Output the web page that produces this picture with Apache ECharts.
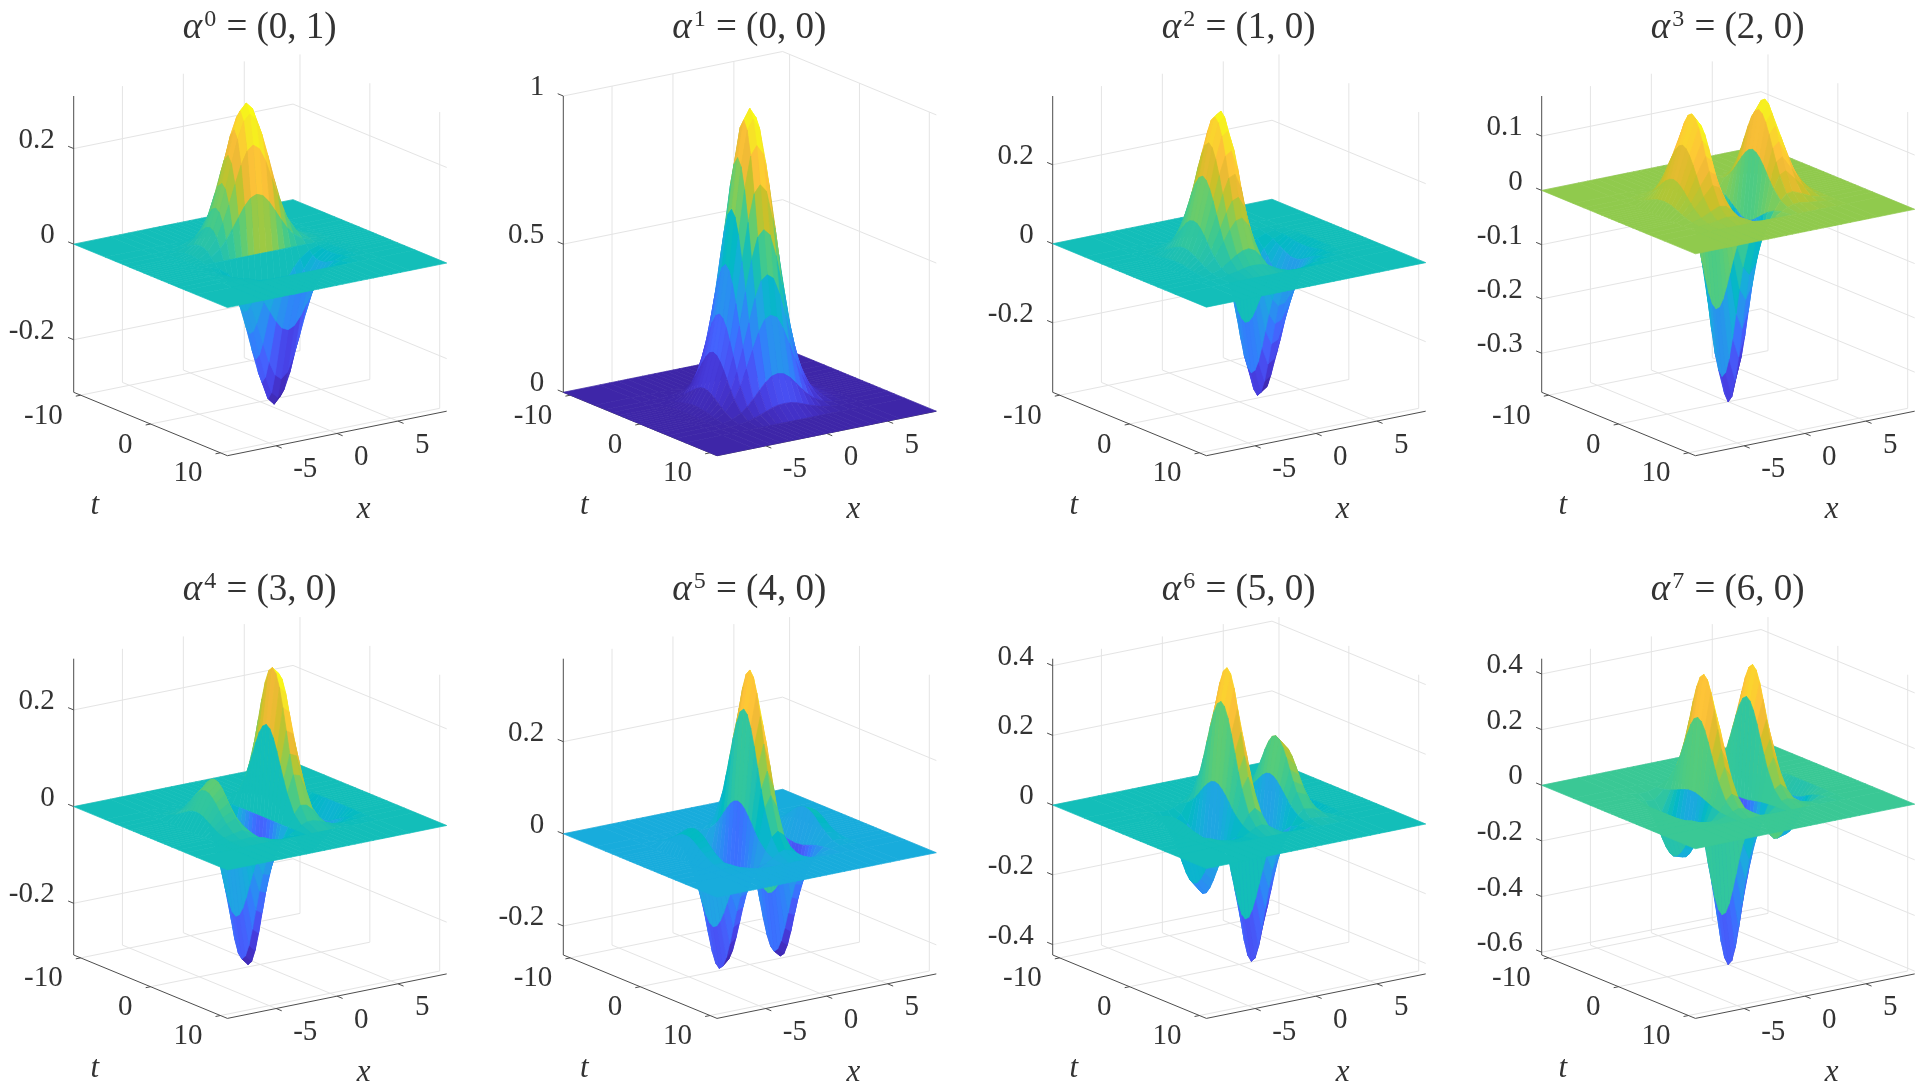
<!DOCTYPE html>
<html><head><meta charset="utf-8">
<style>html,body{margin:0;background:#fff}#c{width:1920px;height:1088px}</style>
<script src="https://cdn.jsdelivr.net/npm/echarts@6/dist/echarts.min.js"></script>
</head><body><div id="c"></div>
<script>
// Surface samples. Rows: t in tSamples. Columns: x in xSamples.
const xSamples=[-5.25,-4.5,-3.75,-3,-2.5,-2,-1.5,-1,-.5,0,.5,1,1.5,2,2.5,3,3.75,4.5,5.25];
const tSamples=[-5,-4,-3,-2.5,-2,-1.5,-1,-.5,0,.5,1,1.5,2,2.5,3,4,5];
const surface0=[
[0,.001,.004,.011,.017,.026,.036,.046,.053,.055,.053,.046,.036,.026,.017,.011,.004,.001,0],
[.001,.003,.01,.026,.043,.065,.089,.112,.129,.135,.129,.112,.089,.065,.043,.026,.01,.003,.001],
[.001,.006,.019,.047,.077,.117,.161,.203,.233,.244,.233,.203,.161,.117,.077,.047,.019,.006,.001],
[.002,.007,.022,.055,.091,.137,.189,.238,.273,.286,.273,.238,.189,.137,.091,.055,.022,.007,.002],
[.002,.007,.023,.058,.096,.145,.201,.252,.289,.303,.289,.252,.201,.145,.096,.058,.023,.007,.002],
[.002,.007,.022,.054,.09,.136,.187,.235,.27,.283,.27,.235,.187,.136,.09,.054,.022,.007,.002],
[.001,.005,.017,.042,.07,.106,.146,.184,.211,.221,.211,.184,.146,.106,.07,.042,.017,.005,.001],
[.001,.003,.009,.023,.038,.058,.08,.101,.116,.121,.116,.101,.08,.058,.038,.023,.009,.003,.001],
[0,0,0,0,0,0,0,0,0,0,0,0,0,0,0,0,0,0,0],
[-.001,-.003,-.009,-.023,-.038,-.058,-.08,-.101,-.116,-.121,-.116,-.101,-.08,-.058,-.038,-.023,-.009,-.003,-.001],
[-.001,-.005,-.017,-.042,-.07,-.106,-.146,-.184,-.211,-.221,-.211,-.184,-.146,-.106,-.07,-.042,-.017,-.005,-.001],
[-.002,-.007,-.022,-.054,-.09,-.136,-.187,-.235,-.27,-.283,-.27,-.235,-.187,-.136,-.09,-.054,-.022,-.007,-.002],
[-.002,-.007,-.023,-.058,-.096,-.145,-.201,-.252,-.289,-.303,-.289,-.252,-.201,-.145,-.096,-.058,-.023,-.007,-.002],
[-.002,-.007,-.022,-.055,-.091,-.137,-.189,-.238,-.273,-.286,-.273,-.238,-.189,-.137,-.091,-.055,-.022,-.007,-.002],
[-.001,-.006,-.019,-.047,-.077,-.117,-.161,-.203,-.233,-.244,-.233,-.203,-.161,-.117,-.077,-.047,-.019,-.006,-.001],
[-.001,-.003,-.01,-.026,-.043,-.065,-.089,-.112,-.129,-.135,-.129,-.112,-.089,-.065,-.043,-.026,-.01,-.003,-.001],
[0,-.001,-.004,-.011,-.017,-.026,-.036,-.046,-.053,-.055,-.053,-.046,-.036,-.026,-.017,-.011,-.004,-.001,0]];
const surface1=[
[0,.001,.003,.008,.014,.021,.029,.037,.042,.043,.042,.037,.029,.021,.014,.008,.003,.001,0],
[.001,.003,.01,.026,.043,.065,.09,.113,.129,.134,.129,.113,.09,.065,.043,.026,.01,.003,.001],
[.002,.008,.025,.062,.103,.156,.215,.27,.31,.321,.31,.27,.215,.156,.103,.062,.025,.008,.002],
[.003,.011,.035,.088,.145,.22,.303,.381,.437,.453,.437,.381,.303,.22,.145,.088,.035,.011,.003],
[.004,.015,.046,.116,.192,.291,.402,.505,.579,.6,.579,.505,.402,.291,.192,.116,.046,.015,.004],
[.005,.018,.057,.145,.239,.362,.5,.628,.721,.747,.721,.628,.5,.362,.239,.145,.057,.018,.005],
[.005,.021,.067,.169,.28,.424,.584,.734,.843,.874,.843,.734,.584,.424,.28,.169,.067,.021,.005],
[.006,.023,.074,.186,.307,.465,.641,.806,.925,.959,.925,.806,.641,.465,.307,.186,.074,.023,.006],
[.006,.024,.076,.192,.317,.48,.662,.832,.955,.99,.955,.832,.662,.48,.317,.192,.076,.024,.006],
[.006,.023,.074,.186,.307,.465,.641,.806,.925,.959,.925,.806,.641,.465,.307,.186,.074,.023,.006],
[.005,.021,.067,.169,.28,.424,.584,.734,.843,.874,.843,.734,.584,.424,.28,.169,.067,.021,.005],
[.005,.018,.057,.145,.239,.362,.5,.628,.721,.747,.721,.628,.5,.362,.239,.145,.057,.018,.005],
[.004,.015,.046,.116,.192,.291,.402,.505,.579,.6,.579,.505,.402,.291,.192,.116,.046,.015,.004],
[.003,.011,.035,.088,.145,.22,.303,.381,.437,.453,.437,.381,.303,.22,.145,.088,.035,.011,.003],
[.002,.008,.025,.062,.103,.156,.215,.27,.31,.321,.31,.27,.215,.156,.103,.062,.025,.008,.002],
[.001,.003,.01,.026,.043,.065,.09,.113,.129,.134,.129,.113,.09,.065,.043,.026,.01,.003,.001],
[0,.001,.003,.008,.014,.021,.029,.037,.042,.043,.042,.037,.029,.021,.014,.008,.003,.001,0]];
const surface2=[
[.001,.002,.005,.009,.013,.016,.016,.014,.008,0,-.008,-.014,-.016,-.016,-.013,-.009,-.005,-.002,-.001],
[.002,.006,.014,.029,.04,.048,.05,.042,.024,0,-.024,-.042,-.05,-.048,-.04,-.029,-.014,-.006,-.002],
[.004,.013,.034,.069,.096,.116,.12,.1,.058,0,-.058,-.1,-.12,-.116,-.096,-.069,-.034,-.013,-.004],
[.005,.019,.048,.098,.135,.163,.169,.141,.081,0,-.081,-.141,-.169,-.163,-.135,-.098,-.048,-.019,-.005],
[.007,.025,.064,.13,.179,.217,.224,.187,.108,0,-.108,-.187,-.224,-.217,-.179,-.13,-.064,-.025,-.007],
[.009,.031,.079,.162,.223,.269,.279,.233,.134,0,-.134,-.233,-.279,-.269,-.223,-.162,-.079,-.031,-.009],
[.011,.036,.093,.189,.26,.315,.326,.273,.157,0,-.157,-.273,-.326,-.315,-.26,-.189,-.093,-.036,-.011],
[.012,.04,.102,.207,.286,.346,.358,.299,.172,0,-.172,-.299,-.358,-.346,-.286,-.207,-.102,-.04,-.012],
[.012,.041,.105,.214,.295,.357,.369,.309,.178,0,-.178,-.309,-.369,-.357,-.295,-.214,-.105,-.041,-.012],
[.012,.04,.102,.207,.286,.346,.358,.299,.172,0,-.172,-.299,-.358,-.346,-.286,-.207,-.102,-.04,-.012],
[.011,.036,.093,.189,.26,.315,.326,.273,.157,0,-.157,-.273,-.326,-.315,-.26,-.189,-.093,-.036,-.011],
[.009,.031,.079,.162,.223,.269,.279,.233,.134,0,-.134,-.233,-.279,-.269,-.223,-.162,-.079,-.031,-.009],
[.007,.025,.064,.13,.179,.217,.224,.187,.108,0,-.108,-.187,-.224,-.217,-.179,-.13,-.064,-.025,-.007],
[.005,.019,.048,.098,.135,.163,.169,.141,.081,0,-.081,-.141,-.169,-.163,-.135,-.098,-.048,-.019,-.005],
[.004,.013,.034,.069,.096,.116,.12,.1,.058,0,-.058,-.1,-.12,-.116,-.096,-.069,-.034,-.013,-.004],
[.002,.006,.014,.029,.04,.048,.05,.042,.024,0,-.024,-.042,-.05,-.048,-.04,-.029,-.014,-.006,-.002],
[.001,.002,.005,.009,.013,.016,.016,.014,.008,0,-.008,-.014,-.016,-.016,-.013,-.009,-.005,-.002,-.001]];
const surface3=[
[.001,.003,.005,.008,.007,.004,-.002,-.009,-.014,-.016,-.014,-.009,-.002,.004,.007,.008,.005,.003,.001],
[.003,.008,.016,.023,.021,.011,-.006,-.027,-.044,-.05,-.044,-.027,-.006,.011,.021,.023,.016,.008,.003],
[.007,.019,.038,.056,.05,.027,-.014,-.064,-.105,-.121,-.105,-.064,-.014,.027,.05,.056,.038,.019,.007],
[.01,.027,.054,.079,.071,.038,-.02,-.09,-.148,-.17,-.148,-.09,-.02,.038,.071,.079,.054,.027,.01],
[.013,.035,.072,.104,.094,.051,-.026,-.119,-.196,-.226,-.196,-.119,-.026,.051,.094,.104,.072,.035,.013],
[.016,.044,.089,.13,.117,.063,-.032,-.148,-.244,-.281,-.244,-.148,-.032,.063,.117,.13,.089,.044,.016],
[.019,.051,.104,.152,.137,.074,-.038,-.173,-.285,-.328,-.285,-.173,-.038,.074,.137,.152,.104,.051,.019],
[.02,.056,.114,.167,.15,.081,-.042,-.19,-.313,-.36,-.313,-.19,-.042,.081,.15,.167,.114,.056,.02],
[.021,.058,.118,.172,.155,.084,-.043,-.196,-.323,-.372,-.323,-.196,-.043,.084,.155,.172,.118,.058,.021],
[.02,.056,.114,.167,.15,.081,-.042,-.19,-.313,-.36,-.313,-.19,-.042,.081,.15,.167,.114,.056,.02],
[.019,.051,.104,.152,.137,.074,-.038,-.173,-.285,-.328,-.285,-.173,-.038,.074,.137,.152,.104,.051,.019],
[.016,.044,.089,.13,.117,.063,-.032,-.148,-.244,-.281,-.244,-.148,-.032,.063,.117,.13,.089,.044,.016],
[.013,.035,.072,.104,.094,.051,-.026,-.119,-.196,-.226,-.196,-.119,-.026,.051,.094,.104,.072,.035,.013],
[.01,.027,.054,.079,.071,.038,-.02,-.09,-.148,-.17,-.148,-.09,-.02,.038,.071,.079,.054,.027,.01],
[.007,.019,.038,.056,.05,.027,-.014,-.064,-.105,-.121,-.105,-.064,-.014,.027,.05,.056,.038,.019,.007],
[.003,.008,.016,.023,.021,.011,-.006,-.027,-.044,-.05,-.044,-.027,-.006,.011,.021,.023,.016,.008,.003],
[.001,.003,.005,.008,.007,.004,-.002,-.009,-.014,-.016,-.014,-.009,-.002,.004,.007,.008,.005,.003,.001]];
const surface4=[
[.002,.003,.004,.001,-.003,-.009,-.013,-.013,-.008,0,.008,.013,.013,.009,.003,-.001,-.004,-.003,-.002],
[.005,.01,.013,.004,-.01,-.027,-.039,-.041,-.025,0,.025,.041,.039,.027,.01,-.004,-.013,-.01,-.005],
[.011,.024,.031,.01,-.024,-.064,-.094,-.098,-.061,0,.061,.098,.094,.064,.024,-.01,-.031,-.024,-.011],
[.016,.034,.043,.014,-.034,-.09,-.132,-.138,-.086,0,.086,.138,.132,.09,.034,-.014,-.043,-.034,-.016],
[.021,.045,.058,.018,-.045,-.119,-.175,-.183,-.113,0,.113,.183,.175,.119,.045,-.018,-.058,-.045,-.021],
[.026,.057,.072,.023,-.057,-.149,-.217,-.228,-.141,0,.141,.228,.217,.149,.057,-.023,-.072,-.057,-.026],
[.031,.066,.084,.026,-.066,-.174,-.254,-.267,-.165,0,.165,.267,.254,.174,.066,-.026,-.084,-.066,-.031],
[.034,.073,.092,.029,-.073,-.191,-.279,-.293,-.181,0,.181,.293,.279,.191,.073,-.029,-.092,-.073,-.034],
[.035,.075,.095,.03,-.075,-.197,-.288,-.302,-.187,0,.187,.302,.288,.197,.075,-.03,-.095,-.075,-.035],
[.034,.073,.092,.029,-.073,-.191,-.279,-.293,-.181,0,.181,.293,.279,.191,.073,-.029,-.092,-.073,-.034],
[.031,.066,.084,.026,-.066,-.174,-.254,-.267,-.165,0,.165,.267,.254,.174,.066,-.026,-.084,-.066,-.031],
[.026,.057,.072,.023,-.057,-.149,-.217,-.228,-.141,0,.141,.228,.217,.149,.057,-.023,-.072,-.057,-.026],
[.021,.045,.058,.018,-.045,-.119,-.175,-.183,-.113,0,.113,.183,.175,.119,.045,-.018,-.058,-.045,-.021],
[.016,.034,.043,.014,-.034,-.09,-.132,-.138,-.086,0,.086,.138,.132,.09,.034,-.014,-.043,-.034,-.016],
[.011,.024,.031,.01,-.024,-.064,-.094,-.098,-.061,0,.061,.098,.094,.064,.024,-.01,-.031,-.024,-.011],
[.005,.01,.013,.004,-.01,-.027,-.039,-.041,-.025,0,.025,.041,.039,.027,.01,-.004,-.013,-.01,-.005],
[.002,.003,.004,.001,-.003,-.009,-.013,-.013,-.008,0,.008,.013,.013,.009,.003,-.001,-.004,-.003,-.002]];
const surface5=[
[.002,.002,-.001,-.007,-.011,-.011,-.005,.004,.013,.017,.013,.004,-.005,-.011,-.011,-.007,-.001,.002,.002],
[.006,.007,-.003,-.022,-.035,-.033,-.016,.013,.04,.051,.04,.013,-.016,-.033,-.035,-.022,-.003,.007,.006],
[.015,.018,-.006,-.054,-.084,-.08,-.037,.031,.095,.122,.095,.031,-.037,-.08,-.084,-.054,-.006,.018,.015],
[.021,.025,-.009,-.076,-.118,-.112,-.053,.044,.135,.172,.135,.044,-.053,-.112,-.118,-.076,-.009,.025,.021],
[.027,.033,-.012,-.1,-.156,-.149,-.07,.059,.178,.228,.178,.059,-.07,-.149,-.156,-.1,-.012,.033,.027],
[.034,.042,-.015,-.125,-.195,-.185,-.087,.073,.222,.284,.222,.073,-.087,-.185,-.195,-.125,-.015,.042,.034],
[.04,.049,-.018,-.146,-.228,-.216,-.101,.086,.259,.332,.259,.086,-.101,-.216,-.228,-.146,-.018,.049,.04],
[.044,.053,-.019,-.16,-.25,-.237,-.111,.094,.285,.364,.285,.094,-.111,-.237,-.25,-.16,-.019,.053,.044],
[.045,.055,-.02,-.165,-.258,-.245,-.115,.097,.294,.376,.294,.097,-.115,-.245,-.258,-.165,-.02,.055,.045],
[.044,.053,-.019,-.16,-.25,-.237,-.111,.094,.285,.364,.285,.094,-.111,-.237,-.25,-.16,-.019,.053,.044],
[.04,.049,-.018,-.146,-.228,-.216,-.101,.086,.259,.332,.259,.086,-.101,-.216,-.228,-.146,-.018,.049,.04],
[.034,.042,-.015,-.125,-.195,-.185,-.087,.073,.222,.284,.222,.073,-.087,-.185,-.195,-.125,-.015,.042,.034],
[.027,.033,-.012,-.1,-.156,-.149,-.07,.059,.178,.228,.178,.059,-.07,-.149,-.156,-.1,-.012,.033,.027],
[.021,.025,-.009,-.076,-.118,-.112,-.053,.044,.135,.172,.135,.044,-.053,-.112,-.118,-.076,-.009,.025,.021],
[.015,.018,-.006,-.054,-.084,-.08,-.037,.031,.095,.122,.095,.031,-.037,-.08,-.084,-.054,-.006,.018,.015],
[.006,.007,-.003,-.022,-.035,-.033,-.016,.013,.04,.051,.04,.013,-.016,-.033,-.035,-.022,-.003,.007,.006],
[.002,.002,-.001,-.007,-.011,-.011,-.005,.004,.013,.017,.013,.004,-.005,-.011,-.011,-.007,-.001,.002,.002]];
const surface6=[
[.001,-.002,-.007,-.009,-.004,.005,.015,.019,.013,0,-.013,-.019,-.015,-.005,.004,.009,.007,.002,-.001],
[.003,-.006,-.023,-.028,-.014,.015,.045,.058,.041,0,-.041,-.058,-.045,-.015,.014,.028,.023,.006,-.003],
[.008,-.015,-.055,-.067,-.032,.035,.109,.139,.098,0,-.098,-.139,-.109,-.035,.032,.067,.055,.015,-.008],
[.011,-.021,-.078,-.094,-.046,.049,.153,.196,.139,0,-.139,-.196,-.153,-.049,.046,.094,.078,.021,-.011],
[.015,-.027,-.103,-.124,-.061,.066,.203,.26,.184,0,-.184,-.26,-.203,-.066,.061,.124,.103,.027,-.015],
[.019,-.034,-.128,-.155,-.075,.082,.253,.323,.229,0,-.229,-.323,-.253,-.082,.075,.155,.128,.034,-.019],
[.022,-.04,-.15,-.181,-.088,.095,.296,.378,.267,0,-.267,-.378,-.296,-.095,.088,.181,.15,.04,-.022],
[.024,-.044,-.165,-.199,-.097,.105,.325,.415,.294,0,-.294,-.415,-.325,-.105,.097,.199,.165,.044,-.024],
[.025,-.045,-.17,-.205,-.1,.108,.335,.428,.303,0,-.303,-.428,-.335,-.108,.1,.205,.17,.045,-.025],
[.024,-.044,-.165,-.199,-.097,.105,.325,.415,.294,0,-.294,-.415,-.325,-.105,.097,.199,.165,.044,-.024],
[.022,-.04,-.15,-.181,-.088,.095,.296,.378,.267,0,-.267,-.378,-.296,-.095,.088,.181,.15,.04,-.022],
[.019,-.034,-.128,-.155,-.075,.082,.253,.323,.229,0,-.229,-.323,-.253,-.082,.075,.155,.128,.034,-.019],
[.015,-.027,-.103,-.124,-.061,.066,.203,.26,.184,0,-.184,-.26,-.203,-.066,.061,.124,.103,.027,-.015],
[.011,-.021,-.078,-.094,-.046,.049,.153,.196,.139,0,-.139,-.196,-.153,-.049,.046,.094,.078,.021,-.011],
[.008,-.015,-.055,-.067,-.032,.035,.109,.139,.098,0,-.098,-.139,-.109,-.035,.032,.067,.055,.015,-.008],
[.003,-.006,-.023,-.028,-.014,.015,.045,.058,.041,0,-.041,-.058,-.045,-.015,.014,.028,.023,.006,-.003],
[.001,-.002,-.007,-.009,-.004,.005,.015,.019,.013,0,-.013,-.019,-.015,-.005,.004,.009,.007,.002,-.001]];
const surface7=[
[-.002,-.008,-.008,.002,.013,.02,.015,-.001,-.019,-.027,-.019,-.001,.015,.02,.013,.002,-.008,-.008,-.002],
[-.007,-.024,-.026,.005,.041,.061,.046,-.003,-.058,-.083,-.058,-.003,.046,.061,.041,.005,-.026,-.024,-.007],
[-.016,-.058,-.062,.013,.097,.146,.11,-.006,-.139,-.198,-.139,-.006,.11,.146,.097,.013,-.062,-.058,-.016],
[-.023,-.082,-.087,.018,.137,.206,.156,-.009,-.195,-.279,-.195,-.009,.156,.206,.137,.018,-.087,-.082,-.023],
[-.03,-.109,-.115,.024,.182,.273,.206,-.012,-.259,-.37,-.259,-.012,.206,.273,.182,.024,-.115,-.109,-.03],
[-.038,-.136,-.143,.03,.226,.34,.257,-.015,-.322,-.46,-.322,-.015,.257,.34,.226,.03,-.143,-.136,-.038],
[-.044,-.159,-.168,.035,.265,.397,.3,-.018,-.377,-.538,-.377,-.018,.3,.397,.265,.035,-.168,-.159,-.044],
[-.048,-.174,-.184,.039,.291,.436,.329,-.019,-.414,-.591,-.414,-.019,.329,.436,.291,.039,-.184,-.174,-.048],
[-.05,-.18,-.19,.04,.3,.45,.34,-.02,-.427,-.61,-.427,-.02,.34,.45,.3,.04,-.19,-.18,-.05],
[-.048,-.174,-.184,.039,.291,.436,.329,-.019,-.414,-.591,-.414,-.019,.329,.436,.291,.039,-.184,-.174,-.048],
[-.044,-.159,-.168,.035,.265,.397,.3,-.018,-.377,-.538,-.377,-.018,.3,.397,.265,.035,-.168,-.159,-.044],
[-.038,-.136,-.143,.03,.226,.34,.257,-.015,-.322,-.46,-.322,-.015,.257,.34,.226,.03,-.143,-.136,-.038],
[-.03,-.109,-.115,.024,.182,.273,.206,-.012,-.259,-.37,-.259,-.012,.206,.273,.182,.024,-.115,-.109,-.03],
[-.023,-.082,-.087,.018,.137,.206,.156,-.009,-.195,-.279,-.195,-.009,.156,.206,.137,.018,-.087,-.082,-.023],
[-.016,-.058,-.062,.013,.097,.146,.11,-.006,-.139,-.198,-.139,-.006,.11,.146,.097,.013,-.062,-.058,-.016],
[-.007,-.024,-.026,.005,.041,.061,.046,-.003,-.058,-.083,-.058,-.003,.046,.061,.041,.005,-.026,-.024,-.007],
[-.002,-.008,-.008,.002,.013,.02,.015,-.001,-.019,-.027,-.019,-.001,.015,.02,.013,.002,-.008,-.008,-.002]];
const surfaces=[surface0,surface1,surface2,surface3,surface4,surface5,surface6,surface7];

const alphaIndex=['0','1','2','3','4','5','6','7'];
const alphaValue=['(0, 1)','(0, 0)','(1, 0)','(2, 0)','(3, 0)','(4, 0)','(5, 0)','(6, 0)'];
const xTicks=[-5,0,5];
const tTicks=[-10,0,10];
const zTicksList=[[-.2,0,.2],[0,.5,1],[-.2,0,.2],[-.3,-.2,-.1,0,.1],[-.2,0,.2],[-.2,0,.2],[-.4,-.2,0,.2,.4],[-.6,-.4,-.2,0,.2,.4]];
const zLimits=[[-.31,.31],[0,1],[-.376,.374],[-.372,.174],[-.307,.306],[-.263,.38],[-.43,.42],[-.61,.455]];
const xLimits=[-9,9];
const tLimits=[-11,11];

// Layout of the oblique view, in pixels
const panelLeft=[73.7,563.3,1052.7,1541.7];
const panelFloor=[392.3,955];
const view={xU:219.3,tU:153.7,xV:-44.5,tV:63.4,zV:296.3,w:373,below:65};
const titleDX=181, titleDY=-390;
const parula=['#3E26A8','#4432CB','#4741E5','#4852F4','#4563FD','#3875FE','#2E87F7','#2796EB','#20A5E3','#12B1D6','#02BAC3','#24C1AE','#37C897','#57CC7A','#81CC59','#ABC739','#D1BF27','#F0BA36','#FEC338','#FAD62D','#F5E924','#F9FB15'];
const rgb=h=>[1,3,5].map(i=>parseInt(h.substr(i,2),16));
function colorAt(f){
  f=Math.max(0,Math.min(1,f))*(parula.length-1);
  const i=Math.min(Math.floor(f),parula.length-2),a=rgb(parula[i]),b=rgb(parula[i+1]),w=f-i;
  return 'rgb('+a.map((v,n)=>Math.round(v+(b[n]-v)*w)).join(',')+')';
}
function project(k,x,t,z){
  const [z0,z1]=zLimits[k];
  const fx=(x-xLimits[0])/(xLimits[1]-xLimits[0]), ft=(t-tLimits[0])/(tLimits[1]-tLimits[0]);
  return [fx*view.xU+ft*view.tU, ft*view.tV+fx*view.xV-(z-z0)/(z1-z0)*view.zV];
}
// Flat sheet around the sampled patch
const xFull=[xLimits[0],-6,...xSamples,6,xLimits[1]];
const tFull=[tLimits[0],-6.5,...tSamples,6.5,tLimits[1]];
function fullZ(s,i,j){
  if(i<2||i>xFull.length-3||j<2||j>tFull.length-3) return 0;
  return s[j-2][i-2];
}
function quads(k){
  const s=surfaces[k],out=[];
  for(let i=xFull.length-2;i>=0;i--) for(let j=0;j<tFull.length-1;j++){
    out.push([xFull[i],xFull[i+1],tFull[j],tFull[j+1],fullZ(s,i,j),fullZ(s,i+1,j),fullZ(s,i,j+1),fullZ(s,i+1,j+1)]);
  }
  return out;
}
function frame(k){
  const [z0,z1]=zLimits[k],[xa,xb]=xLimits,[ta,tb]=tLimits,g=[];
  xTicks.forEach(x=>{g.push([x,ta,z0,x,ta,z1,0],[x,ta,z0,x,tb,z0,0]);});
  tTicks.forEach(t=>{g.push([xb,t,z0,xb,t,z1,0],[xa,t,z0,xb,t,z0,0]);});
  zTicksList[k].forEach(z=>{g.push([xa,ta,z,xb,ta,z,0],[xb,ta,z,xb,tb,z,0]);});
  g.push([xa,ta,z0,xa,ta,z1,1],[xa,ta,z0,xa,tb,z0,1],[xa,tb,z0,xb,tb,z0,1]);
  zTicksList[k].forEach(z=>g.push([xa,ta,z,xa,ta-.8,z,1]));
  xTicks.forEach(x=>g.push([x,tb,z0,x,tb+.8,z0,1]));
  tTicks.forEach(t=>g.push([xa,t,z0,xa-.4,t,z0,1]));
  return g;
}
const fmt=v=>String(v).replace(/^(-?)\./,'$10.');
const serif='"Liberation Serif"';
const font='29px '+serif, letter='italic 31px '+serif;
const ink='#333333';
const options={animation:false,backgroundColor:'#fff',title:[],grid:[],xAxis:[],yAxis:[],series:[]};
surfaces.forEach((s,k)=>{
  const L=panelLeft[k%4],F=panelFloor[k>>2];
  options.grid.push({left:L,width:view.w,top:F-view.zV,height:view.zV+view.below});
  options.xAxis.push({type:'value',gridIndex:k,min:0,max:view.w,show:false});
  options.yAxis.push({type:'value',gridIndex:k,min:-view.zV,max:view.below,inverse:true,show:false});
  options.title.push({left:L+titleDX,top:F+titleDY,textAlign:'center',text:'{a|α}{s|'+alphaIndex[k]+'}{b| = '+alphaValue[k]+'}',
    textStyle:{fontWeight:'normal',rich:{
      a:{fontFamily:'Liberation Serif',fontSize:37,fontStyle:'italic',fontWeight:'normal',color:ink},
      s:{fontFamily:'Liberation Serif',fontSize:24,fontWeight:'normal',color:ink,padding:[0,1,17,2]},
      b:{fontFamily:'Liberation Serif',fontSize:37,fontWeight:'normal',color:ink}}}});
  const all=s.flat(),cmin=Math.min(...all),cmax=Math.max(...all);
  options.series.push({type:'custom',xAxisIndex:k,yAxisIndex:k,z:1,silent:true,data:frame(k),
    renderItem:(p,api)=>{
      const a=api.coord(project(k,api.value(0),api.value(1),api.value(2))),b=api.coord(project(k,api.value(3),api.value(4),api.value(5)));
      const axis=api.value(6)===1;
      return {type:'line',shape:{x1:a[0],y1:a[1],x2:b[0],y2:b[1]},style:{stroke:axis?'#4d4d4d':'#e4e4e4',lineWidth:1}};
    }});
  options.series.push({type:'custom',xAxisIndex:k,yAxisIndex:k,z:2,silent:true,progressive:0,data:quads(k),
    renderItem:(p,api)=>{
      const v=[0,1,2,3,4,5,6,7].map(i=>api.value(i));
      const pts=[[v[0],v[2],v[4]],[v[1],v[2],v[5]],[v[1],v[3],v[7]],[v[0],v[3],v[6]]].map(q=>api.coord(project(k,q[0],q[1],q[2])));
      // each facet takes the colour of its lowest-index corner
      const c=colorAt((v[4]-cmin)/(cmax-cmin));
      return {type:'polygon',shape:{points:pts},style:{fill:c,stroke:c,lineWidth:.7}};
    }});
  const labels=[],items=[];
  const [z0]=zLimits[k],[xa]=xLimits,[ta,tb]=tLimits;
  zTicksList[k].forEach(z=>{items.push([xa,ta,z,0]);labels.push(fmt(z));});
  tTicks.forEach(t=>{items.push([xa,t,z0,1]);labels.push(String(t));});
  xTicks.forEach(x=>{items.push([x,tb,z0,2]);labels.push(String(x));});
  items.push([xa,ta,z0,3]);labels.push('t');
  items.push([xa,ta,z0,4]);labels.push('x');
  options.series.push({type:'custom',xAxisIndex:k,yAxisIndex:k,z:3,silent:true,data:items,
    renderItem:(p,api)=>{
      const c=api.coord(project(k,api.value(0),api.value(1),api.value(2))),m=api.value(3);
      const place=[[-19,-8.5,'right',font],[-18,21,'right',font],[17,24,'left',font],
        [21,114,'center',letter],[290,118,'center',letter]][m];
      return {type:'text',style:{x:c[0]+place[0],y:c[1]+place[1],text:labels[p.dataIndex],align:place[2],verticalAlign:'middle',font:place[3],fill:ink}};
    }});
});
echarts.init(document.getElementById('c'),null,{renderer:'canvas'}).setOption(options);
</script></body></html>
